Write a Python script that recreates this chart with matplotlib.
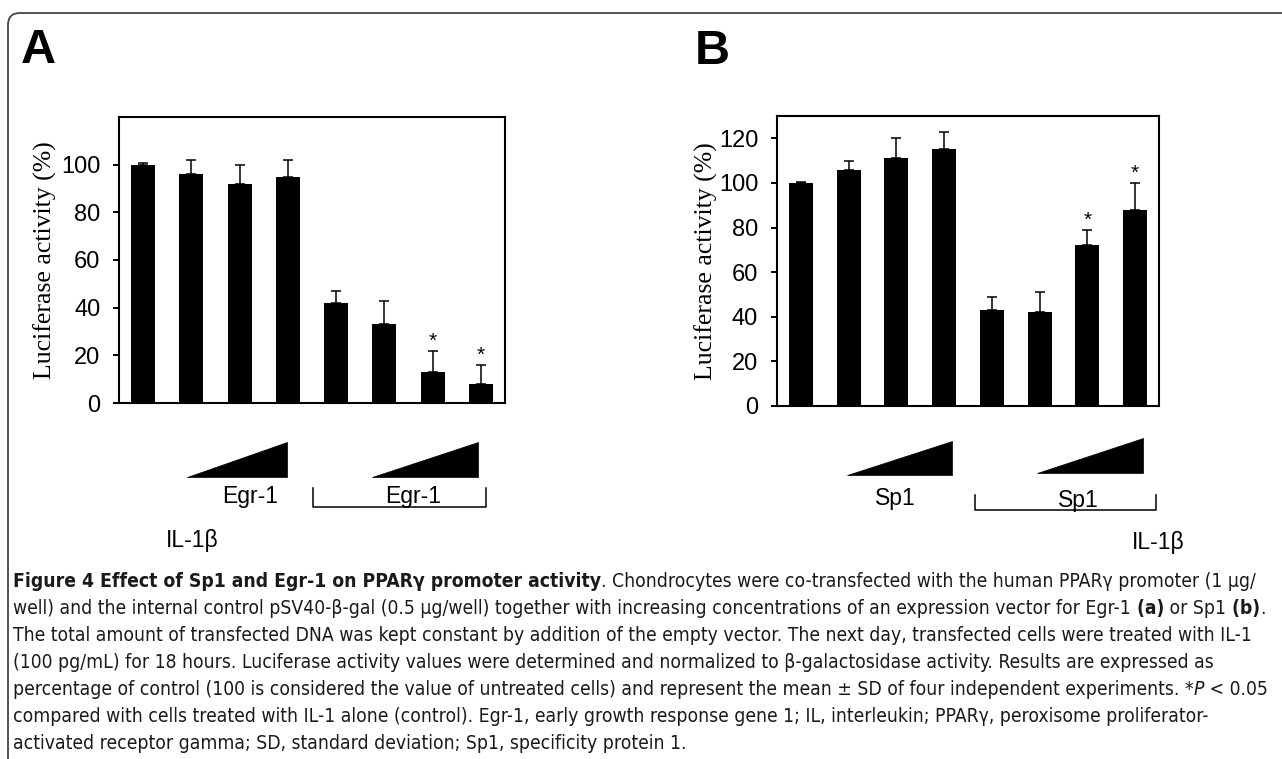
import numpy as np
import matplotlib
matplotlib.use("Agg")
import matplotlib.pyplot as plt
from matplotlib import font_manager as fm
from matplotlib.patches import FancyBboxPatch, Polygon

# panel A: Egr-1
egr_vals = [100, 96, 92, 95, 42, 33, 13, 8]
egr_err = [0.5, 6, 8, 7, 5, 10, 9, 8]
egr_star = [False, False, False, False, False, False, True, True]

# panel B: Sp1
sp_vals = [100, 106, 111, 115, 43, 42, 72, 88]
sp_err = [0.5, 4, 9, 8, 6, 9, 7, 12]
sp_star = [False, False, False, False, False, False, True, True]

ylabel = "Luciferase activity (%)"

caption = [
    [("Figure 4 Effect of Sp1 and Egr-1 on PPARγ promoter activity", "bold"),
     (". Chondrocytes were co-transfected with the human PPARγ promoter (1 µg/", "normal")],
    [("well) and the internal control pSV40-β-gal (0.5 µg/well) together with increasing concentrations of an expression vector for Egr-1", "normal"),
     (" (a)", "bold"), (" or Sp1", "normal"), (" (b)", "bold"), (".", "normal")],
    [("The total amount of transfected DNA was kept constant by addition of the empty vector. The next day, transfected cells were treated with IL-1", "normal")],
    [("(100 pg/mL) for 18 hours. Luciferase activity values were determined and normalized to β-galactosidase activity. Results are expressed as", "normal")],
    [("percentage of control (100 is considered the value of untreated cells) and represent the mean ± SD of four independent experiments. *", "normal"),
     ("P", "italic"), (" < 0.05", "normal")],
    [("compared with cells treated with IL-1 alone (control). Egr-1, early growth response gene 1; IL, interleukin; PPARγ, peroxisome proliferator-", "normal")],
    [("activated receptor gamma; SD, standard deviation; Sp1, specificity protein 1.", "normal")],
]

names = {f.name for f in fm.fontManager.ttflist}
if "Liberation Sans Narrow" in names:
    cap_family, cap_stretch = "Liberation Sans Narrow", "normal"
else:
    cap_family, cap_stretch = "DejaVu Sans", "condensed"

W, H = 1282, 759
fig = plt.figure(figsize=(W / 100, H / 100), dpi=100)

# overlay in pixel coordinates for frame, letters, wedges, caption
ov = fig.add_axes([0, 0, 1, 1], zorder=0)
ov.set_xlim(0, W)
ov.set_ylim(H, 0)
ov.axis("off")

ov.add_patch(FancyBboxPatch((8, 13), W + 40, H + 40,
                            boxstyle="round,pad=0,rounding_size=12",
                            fc="none", ec="#444444", lw=1.3, clip_on=False))

sans = "Liberation Sans"


def panel(rect_px, vals, errs, stars, ymax, yticks, labelpad):
    l, t, r, b = rect_px
    ax = fig.add_axes([l / W, (H - b) / H, (r - l) / W, (b - t) / H], zorder=2)
    x = np.arange(len(vals))
    ax.bar(x, vals, width=0.5, color="black",
           yerr=[np.zeros(len(errs)), errs], capsize=3.3,
           error_kw=dict(ecolor="black", elinewidth=1.1, capthick=1.1))
    for xi, v, e, s in zip(x, vals, errs, stars):
        if s:
            ax.annotate("*", (xi, v + e), xytext=(0, 0), textcoords="offset points",
                        ha="center", va="bottom", fontsize=15, family=sans)
    ax.set_xlim(-0.5, len(vals) - 0.5)
    ax.set_ylim(0, ymax)
    ax.set_xticks([])
    ax.set_yticks(yticks)
    ax.tick_params(axis="y", direction="out", length=4.5, width=1.4,
                   labelsize=17, pad=9)
    for lab in ax.get_yticklabels():
        lab.set_family(sans)
    for sp in ax.spines.values():
        sp.set_linewidth(1.5)
    ax.set_ylabel(ylabel, family="Liberation Serif", fontsize=18.5, labelpad=labelpad)
    return ax


axA = panel((119, 117, 505, 403), egr_vals, egr_err, egr_star, 120,
            [0, 20, 40, 60, 80, 100], 3)
axB = panel((777, 116, 1159, 406), sp_vals, sp_err, sp_star, 130,
            [0, 20, 40, 60, 80, 100, 120], 0.5)

# panel letters
ov.text(21, 63, "A", family=sans, weight="bold", fontsize=35, va="baseline")
ov.text(695, 64, "B", family=sans, weight="bold", fontsize=35, va="baseline")

# wedges, labels and brackets below the bars
wedges = [(187, 287, 477, 442), (372, 478, 477, 442),
          (847, 952, 475, 441), (1037, 1143, 473, 438)]
for x0, x1, yb, yt in wedges:
    ov.add_patch(Polygon([(x0, yb), (x1, yb), (x1, yt)], closed=True,
                         fc="black", ec="black", lw=0.5))

for xc, yc, s in [(250, 497, "Egr-1"), (413, 497, "Egr-1"),
                  (895, 498, "Sp1"), (1078, 500, "Sp1")]:
    ov.text(xc, yc, s, family=sans, fontsize=16.5, ha="center", va="center")

for x0, x1, yb, yt in [(313, 486, 507, 488), (975, 1156, 510, 495)]:
    ov.plot([x0, x0, x1, x1], [yt, yb, yb, yt], color="black", lw=1.1)

ov.text(192, 540, "IL-1β", family=sans, fontsize=16.5, ha="center", va="center")
ov.text(1158, 543, "IL-1β", family=sans, fontsize=16.5, ha="center", va="center")


# caption, one chain of texts per line
def draw_caption(size):
    arts = []
    for i, line in enumerate(caption):
        y = 591 + i * 27
        prev = None
        for txt, style in line:
            kw = dict(family=cap_family, stretch=cap_stretch, fontsize=size,
                      color="#1a1a1a", va="bottom", ha="left")
            if style == "bold":
                kw["weight"] = "bold"
            if style == "italic":
                kw["style"] = "italic"
            if prev is None:
                t = ov.text(13, y, txt, **kw)
            else:
                t = ov.annotate(txt, xy=(1, 0), xycoords=prev, **kw)
            arts.append(t)
            prev = t
    return arts


size = 12.5
arts = draw_caption(size)
fig.canvas.draw()
r = fig.canvas.get_renderer()
right = max(a.get_window_extent(r).x1 for a in arts)
scale = (1268 - 13) / (right - 13)
new = min(size * scale, 14)
for a in arts:
    a.set_fontsize(new)

fig.savefig("out.png", dpi=100)
